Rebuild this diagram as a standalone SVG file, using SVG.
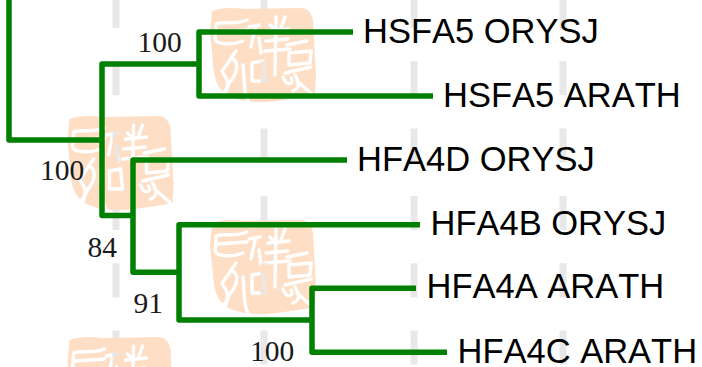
<svg xmlns="http://www.w3.org/2000/svg" width="702" height="367" viewBox="0 0 702 367">
<style>
.dash{stroke:#e8e8e8;stroke-width:7;stroke-dasharray:34 33.3;fill:none}
.seal{fill:#fedfc6}
.gl{fill:none;stroke:#000;stroke-width:3.4;stroke-linecap:round;stroke-linejoin:round}
.ln{fill:none;stroke:#008000;stroke-width:5.5;stroke-linejoin:round}
.lb{font-family:"Liberation Sans",Arial,sans-serif;font-size:34.500px;font-kerning:none;fill:#000}
.bs{font-family:"Liberation Serif","Times New Roman",serif;font-size:29.500px;fill:#1a1a1a}
</style>
<defs>
<mask id="sm" maskUnits="userSpaceOnUse" x="0" y="0" width="120" height="110">
<path d="M7,8 Q20,3 40,6 L95,5 Q106,5 108,18 L111,72 L110,92 Q90,96 62,99 Q40,100 26,94 Q12,88 9,70 L5,30 Z" fill="#fff"/>
<g class="gl">
<path d="M11,21 C20,18 30,22 42,17"/>
<path d="M11,24 L10,36 C12,42 28,42 38,38"/>
<path d="M12,29 L42,27"/>
<path d="M31,48 C26,55 22,62 17,68"/>
<path d="M28,56 C34,60 33,70 24,80 L20,92"/>
<path d="M18,70 C24,78 24,85 18,90"/>
<path d="M38,62 C40,80 38,90 44,100"/>
<path d="M47,60 L58,58 L60,78 L47,78 Z"/>
<path d="M44,24 L55,22"/>
<path d="M50,25 L46,44"/>
<path d="M54,35 L56,50"/>
<path d="M63,28 L84,26"/>
<path d="M65,22 L68,25"/>
<path d="M80,14 L76,25"/>
<path d="M61,38 L83,36"/>
<path d="M60,48 L85,46"/>
<path d="M71,14 L70,72"/>
<path d="M82,42 L102,38"/>
<path d="M84,50 L106,48 L105,60 L84,62 Z"/>
<path d="M80,70 L106,64"/>
<path d="M86,75 C90,80 82,85 78,74"/>
<path d="M90,72 C95,80 95,85 88,88"/>
<path d="M92,78 L108,92"/>
</g>
</mask>
<rect id="s" class="seal" x="0" y="0" width="120" height="110" mask="url(#sm)"/>
</defs>
<g id="watermark">
<path class="dash" d="M116-6V367"/>
<path class="dash" d="M264-6V367"/>
<path class="dash" d="M414-6V367"/>
<path class="dash" d="M563-6V367"/>
<use href="#s" x="205" y="3"/>
<use href="#s" x="62.500" y="111"/>
<use href="#s" x="205" y="215"/>
<use href="#s" x="62.500" y="332"/>
</g>
<g id="connectors">
<path class="ln" d="M9,0V140H102"/>
<path class="ln" d="M102,140V64H199"/>
<path class="ln" d="M353,32H199V96H433"/>
<path class="ln" d="M102,140V215.500H133"/>
<path class="ln" d="M347,160H133V272.300H179"/>
<path class="ln" d="M420,224.700H179V320H312"/>
<path class="ln" d="M416,288.300H312V352.300H447"/>
</g>
<g id="node-hsfa5-orysj"><text class="lb" x="363" y="42.700">HSFA5 ORYSJ</text></g>
<g id="node-hsfa5-arath"><text class="lb" x="443" y="107">HSFA5 ARATH</text></g>
<g id="node-hfa4d-orysj"><text class="lb" x="357" y="170.700">HFA4D ORYSJ</text></g>
<g id="node-hfa4b-orysj"><text class="lb" x="430.500" y="235">HFA4B ORYSJ</text></g>
<g id="node-hfa4a-arath"><text class="lb" x="426.500" y="298">HFA4A ARATH</text></g>
<g id="node-hfa4c-arath"><text class="lb" x="457.500" y="363">HFA4C ARATH</text></g>
<g id="support">
<text class="bs" x="137.500" y="51.700">100</text>
<text class="bs" x="40" y="180">100</text>
<text class="bs" x="87.500" y="256.700">84</text>
<text class="bs" x="133.500" y="313">91</text>
<text class="bs" x="250" y="360.700">100</text>
</g>
</svg>
